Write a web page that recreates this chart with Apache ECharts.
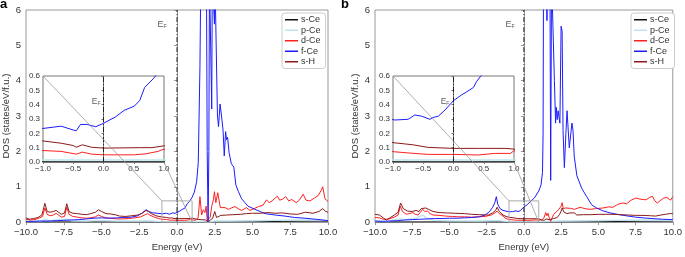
<!DOCTYPE html>
<html>
<head>
<meta charset="utf-8">
<script src="https://cdn.jsdelivr.net/npm/echarts@6/dist/echarts.min.js"></script>
<style>html,body{margin:0;padding:0;background:#fff}#chart{width:685px;height:257px}</style>
</head>
<body>
<div id="chart"></div>
<script>
// legend names and colours
const names = ['s-Ce', 'p-Ce', 'd-Ce', 'f-Ce', 's-H'];
const colors = ['#111111', '#bfe3ef', '#ff2020', '#1c1cff', '#8b1a1a'];

// axis ranges [min, max, step]
const mainX = [-10, 10, 2.5];
const mainY = [0, 6, 1];
const insetX = [-1, 1, 0.5];
const insetY = [0, 0.6, 0.1];

// Fermi level label positions [x, y] in main / inset coordinates
const efMainA = [-0.99, 5.6];
const efMainB = [-0.93, 5.6];
const efInsetA = [-0.12, 0.42];
const efInsetB = [-0.14, 0.42];

// ---- panel a, [energy, DOS] ----
const sCeA = [[-10,0.003],[-5,0.003],[0,0.001],[2,0.002],[5,0.01],[7,0.02],[8,0.025],[10,0.03]];
const pCeA = [[-10,0.02],[-9,0.03],[-8.75,0.08],[-8.4,0.04],[-8,0.06],[-7.3,0.08],[-7,0.04],[-6,0.03],[-5.2,0.05],[-4,0.03],[-2.5,0.03],[-2,0.04],[-1,0.014],[1,0.014],[1.5,0.02],[2.07,0],[2.5,0.03],[3.5,0.03],[5,0.04],[6.5,0.05],[8,0.06],[9.5,0.06],[10,0.05]];
const dCeA = [[-10,0.08],[-9.7,0.06],[-9.4,0.07],[-9.1,0.12],[-8.9,0.16],[-8.75,0.4],[-8.6,0.22],[-8.4,0.18],[-8.2,0.2],[-8.0,0.25],[-7.85,0.2],[-7.65,0.14],[-7.45,0.16],[-7.3,0.42],[-7.15,0.22],[-6.9,0.16],[-6.6,0.14],[-6.3,0.12],[-6.0,0.11],[-5.7,0.12],[-5.4,0.15],[-5.2,0.2],[-5.0,0.16],[-4.7,0.12],[-4.4,0.11],[-4.0,0.09],[-3.6,0.09],[-3.2,0.1],[-2.8,0.12],[-2.4,0.15],[-2.1,0.21],[-1.95,0.24],[-1.8,0.2],[-1.5,0.14],[-1.2,0.1],[-1.0,0.08],[-0.7,0.074],[-0.45,0.055],[-0.35,0.069],[-0.2,0.055],[0,0.05],[0.5,0.05],[0.7,0.057],[0.9,0.074],[1.0,0.09],[1.2,0.05],[1.4,0.12],[1.52,0.72],[1.63,0.2],[1.74,0.35],[1.85,0.27],[1.93,0.45],[2.0,0.04],[2.07,0.0],[2.2,0.14],[2.3,0.45],[2.41,0.63],[2.48,0.86],[2.57,0.55],[2.7,0.83],[2.78,0.87],[2.87,0.41],[2.96,0.38],[3.18,0.41],[3.4,0.36],[3.6,0.4],[3.84,0.44],[4.05,0.38],[4.28,0.33],[4.6,0.41],[4.83,0.33],[5.1,0.38],[5.4,0.44],[5.7,0.48],[5.93,0.63],[6.1,0.55],[6.3,0.6],[6.5,0.68],[6.65,0.73],[6.8,0.62],[7.0,0.65],[7.2,0.72],[7.4,0.6],[7.6,0.64],[7.9,0.55],[8.1,0.62],[8.35,0.79],[8.55,0.62],[8.8,0.6],[9.1,0.68],[9.35,0.75],[9.55,0.9],[9.65,1.0],[9.8,0.66],[10,0.58]];
const fCeA = [[-10,0.02],[-9.5,0.02],[-9,0.03],[-8.5,0.03],[-8,0.04],[-7.5,0.05],[-7,0.06],[-6.5,0.07],[-6,0.09],[-5.5,0.11],[-5.0,0.12],[-4.5,0.11],[-4.0,0.12],[-3.5,0.13],[-3.0,0.14],[-2.6,0.18],[-2.3,0.26],[-2.05,0.35],[-1.85,0.3],[-1.6,0.26],[-1.3,0.25],[-1.0,0.234],[-0.7,0.25],[-0.5,0.223],[-0.45,0.218],[-0.38,0.262],[-0.27,0.262],[-0.13,0.246],[0,0.27],[0.2,0.315],[0.34,0.36],[0.51,0.39],[0.6,0.43],[0.68,0.52],[0.82,0.58],[0.86,0.6],[1.0,0.7],[1.15,0.85],[1.3,1.14],[1.41,1.69],[1.52,4.4],[1.58,7],[1.95,7],[2.0,2.0],[2.06,0.02],[2.11,2.0],[2.15,7],[2.26,7],[2.3,3.2],[2.34,7],[2.45,7],[2.48,5.6],[2.51,7],[2.62,7],[2.68,3.0],[2.75,2.7],[2.85,3.34],[2.95,3.0],[3.05,2.6],[3.13,1.87],[3.22,2.56],[3.28,2.33],[3.35,2.4],[3.45,1.96],[3.6,1.65],[3.76,1.56],[3.9,1.05],[4.07,0.86],[4.28,0.66],[4.5,0.55],[4.7,0.45],[5.17,0.36],[5.5,0.3],[5.83,0.24],[6.5,0.2],[7.15,0.17],[7.8,0.13],[8.47,0.11],[9.2,0.08],[9.8,0.05],[10,0.04]];
const sHA = [[-10,0.12],[-9.8,0.08],[-9.5,0.1],[-9.2,0.13],[-8.95,0.2],[-8.75,0.53],[-8.6,0.3],[-8.4,0.28],[-8.2,0.3],[-8.0,0.33],[-7.85,0.28],[-7.65,0.22],[-7.45,0.26],[-7.3,0.52],[-7.15,0.3],[-6.9,0.25],[-6.6,0.24],[-6.3,0.22],[-6.0,0.21],[-5.7,0.24],[-5.4,0.28],[-5.2,0.35],[-5.0,0.3],[-4.7,0.24],[-4.4,0.23],[-4.1,0.21],[-3.8,0.17],[-3.4,0.16],[-3.0,0.18],[-2.6,0.2],[-2.3,0.25],[-2.05,0.33],[-1.9,0.3],[-1.7,0.24],[-1.4,0.18],[-1.2,0.16],[-1.0,0.147],[-0.7,0.131],[-0.5,0.115],[-0.45,0.103],[-0.35,0.12],[-0.2,0.103],[0,0.097],[0.6,0.1],[0.8,0.1],[1.0,0.113],[1.3,0.08],[1.6,0.07],[1.9,0.06],[2.07,0.0],[2.2,0.06],[2.35,0.1],[2.5,0.3],[2.62,0.13],[2.9,0.19],[3.3,0.2],[3.7,0.21],[4.2,0.22],[4.6,0.24],[5.0,0.25],[5.5,0.25],[6.0,0.27],[6.5,0.25],[7.0,0.26],[7.5,0.23],[8.0,0.22],[8.5,0.28],[9.0,0.25],[9.4,0.3],[9.65,0.38],[9.85,0.3],[10,0.28]];

// ---- panel b, [energy, DOS] ----
const sCeB = [[-10,0.003],[-5,0.003],[0,0.001],[2,0.002],[5,0.01],[7,0.02],[8,0.025],[10,0.03]];
const pCeB = [[-10,0.03],[-9.2,0.02],[-8.3,0.1],[-8,0.06],[-7.2,0.12],[-6.8,0.2],[-6.5,0.1],[-6,0.05],[-5,0.04],[-3,0.03],[-1.8,0.05],[-1,0.014],[1,0.014],[1.5,0.02],[2.5,0.03],[4,0.04],[6,0.05],[8,0.06],[10,0.05]];
const dCeB = [[-10,0.13],[-9.7,0.12],[-9.45,0.08],[-9.2,0.08],[-9,0.1],[-8.7,0.14],[-8.45,0.2],[-8.3,0.45],[-8.15,0.3],[-7.9,0.22],[-7.7,0.24],[-7.46,0.27],[-7.3,0.22],[-7.1,0.2],[-6.95,0.28],[-6.8,0.36],[-6.65,0.3],[-6.47,0.31],[-6.3,0.24],[-6.1,0.2],[-5.7,0.19],[-5.26,0.17],[-4.8,0.16],[-4.4,0.15],[-4.0,0.15],[-3.5,0.14],[-3.0,0.15],[-2.6,0.16],[-2.2,0.2],[-1.95,0.26],[-1.8,0.31],[-1.65,0.24],[-1.4,0.17],[-1.2,0.1],[-1.0,0.072],[-0.65,0.06],[-0.42,0.053],[0,0.053],[0.41,0.049],[0.68,0.06],[0.94,0.06],[1.0,0.079],[1.2,0.06],[1.35,0.12],[1.47,0.27],[1.55,0.18],[1.62,0.25],[1.72,0.1],[1.8,0.02],[1.9,0.12],[2.0,0.22],[2.2,0.3],[2.35,0.36],[2.5,0.45],[2.57,0.55],[2.65,0.38],[2.8,0.4],[3.12,0.39],[3.4,0.36],[3.78,0.42],[4.1,0.38],[4.44,0.36],[4.8,0.38],[5.32,0.4],[5.7,0.43],[5.98,0.42],[6.3,0.5],[6.65,0.54],[6.9,0.52],[7.2,0.62],[7.53,0.68],[7.8,0.65],[8.2,0.63],[8.45,0.7],[8.63,0.73],[8.8,0.6],[8.96,0.54],[9.2,0.62],[9.4,0.68],[9.6,0.7],[9.73,0.73],[9.85,0.62],[10,0.72]];
const fCeB = [[-10,0.03],[-9.5,0.02],[-9,0.03],[-8.5,0.04],[-8,0.06],[-7.5,0.07],[-7,0.08],[-6.5,0.09],[-6,0.1],[-5.5,0.1],[-5,0.11],[-4.5,0.11],[-4,0.12],[-3.5,0.13],[-3,0.15],[-2.6,0.2],[-2.3,0.3],[-2.1,0.42],[-1.95,0.55],[-1.85,0.72],[-1.75,0.5],[-1.6,0.38],[-1.4,0.33],[-1.2,0.31],[-0.97,0.293],[-0.75,0.298],[-0.64,0.328],[-0.53,0.32],[-0.39,0.298],[-0.34,0.31],[-0.25,0.32],[-0.14,0.363],[0,0.428],[0.13,0.467],[0.22,0.49],[0.33,0.52],[0.38,0.56],[0.45,0.6],[0.7,0.68],[1.0,0.88],[1.15,1.05],[1.25,1.4],[1.29,2.5],[1.32,7],[1.5,7],[1.55,5.7],[1.6,7],[1.75,7],[1.8,1.18],[1.86,7],[1.98,7],[2.05,4.0],[2.13,2.8],[2.17,3.25],[2.24,2.9],[2.3,3.15],[2.35,3.1],[2.42,2.8],[2.5,5.54],[2.57,5.4],[2.63,2.6],[2.72,1.54],[2.82,2.5],[2.9,3.15],[2.97,3.2],[3.05,2.1],[3.12,2.05],[3.23,2.8],[3.3,2.6],[3.38,1.87],[3.56,1.31],[3.89,0.95],[4.22,0.72],[4.55,0.49],[4.88,0.4],[5.3,0.32],[5.8,0.26],[6.4,0.21],[7.0,0.17],[7.5,0.14],[8.0,0.12],[8.6,0.1],[9.3,0.08],[10,0.07]];
const sHB = [[-10,0.22],[-9.7,0.2],[-9.45,0.12],[-9.23,0.06],[-9.0,0.12],[-8.7,0.2],[-8.45,0.28],[-8.28,0.54],[-8.1,0.38],[-7.8,0.31],[-7.5,0.3],[-7.24,0.33],[-7.05,0.3],[-6.9,0.38],[-6.8,0.42],[-6.6,0.4],[-6.4,0.36],[-6.1,0.3],[-5.7,0.27],[-5.2,0.26],[-4.6,0.25],[-4.0,0.24],[-3.5,0.22],[-3.0,0.21],[-2.4,0.2],[-2.1,0.26],[-1.9,0.33],[-1.8,0.42],[-1.65,0.3],[-1.4,0.2],[-1.2,0.16],[-1.0,0.135],[-0.67,0.12],[-0.42,0.102],[0,0.095],[0.41,0.095],[0.85,0.095],[1.0,0.09],[1.2,0.06],[1.36,0.05],[1.5,0.09],[1.58,0.13],[1.7,0.07],[1.8,0.02],[2.0,0.1],[2.24,0.13],[2.4,0.22],[2.5,0.31],[2.57,0.4],[2.7,0.28],[2.9,0.24],[3.1,0.26],[3.23,0.31],[3.4,0.26],[3.56,0.2],[4.0,0.21],[4.5,0.21],[5.0,0.22],[5.5,0.22],[6.0,0.22],[6.5,0.21],[7.0,0.2],[7.5,0.19],[8.0,0.19],[8.5,0.18],[8.85,0.17],[9.2,0.2],[9.5,0.22],[9.8,0.24],[10,0.24]];

const panelA = [sCeA, pCeA, dCeA, fCeA, sHA];
const panelB = [sCeB, pCeB, dCeB, fCeB, sHB];

const FONT = 'Liberation Sans, Arial, sans-serif';
const fmt = (v, d) => v.toFixed(d).replace('-', '\u2212');

function dosLines(sets, xi, z) {
  return sets.map((d, i) => ({
    type: 'line', name: names[i], data: d, xAxisIndex: xi, yAxisIndex: xi,
    symbol: 'none', z: z, clip: true, silent: true,
    lineStyle: { color: colors[i], width: i === 1 ? 1.4 : 1 }, itemStyle: { color: colors[i] }
  }));
}

function fermiLine(xi, range, z) {
  return {
    type: 'line', data: [[0, range[0]], [0, range[1]]], xAxisIndex: xi, yAxisIndex: xi,
    symbol: 'none', z: z, silent: true,
    lineStyle: { color: '#222', width: 1, type: [5, 2, 1, 2] }
  };
}

function efLabel(xi, pos, size, z) {
  return {
    type: 'scatter', data: [pos], xAxisIndex: xi, yAxisIndex: xi, symbolSize: 0, z: z, silent: true,
    label: {
      show: true, position: 'inside', formatter: '{e|E}{f|F}',
      rich: {
        e: { fontSize: size, fontFamily: FONT, color: '#333' },
        f: { fontSize: size * 0.6, fontFamily: FONT, color: '#333', padding: [size * 0.5, 0, 0, 0] }
      }
    }
  };
}

// zoom box drawn on the main axes from the inset's ranges
function zoomBox(xi) {
  return {
    type: 'line', xAxisIndex: xi, yAxisIndex: xi, symbol: 'none', z: 4, silent: true,
    data: [[insetX[0], insetY[0]], [insetX[0], insetY[1]], [insetX[1], insetY[1]], [insetX[1], insetY[0]], [insetX[0], insetY[0]]],
    lineStyle: { color: '#aaa', width: 1 }
  };
}

function mainXAxis(grid) {
  return {
    type: 'value', gridIndex: grid, min: mainX[0], max: mainX[1], interval: mainX[2],
    name: 'Energy (eV)', nameLocation: 'middle', nameGap: 17,
    nameTextStyle: { fontSize: 9.5, fontFamily: FONT, color: '#333' },
    axisLine: { onZero: false, lineStyle: { color: '#999' } },
    axisTick: { length: 3, lineStyle: { color: '#999' } },
    axisLabel: { fontSize: 9.5, fontFamily: FONT, color: '#333', margin: 5, formatter: v => fmt(v, 1) },
    splitLine: { show: false }
  };
}
function mainYAxis(grid) {
  return {
    type: 'value', gridIndex: grid, min: mainY[0], max: mainY[1], interval: mainY[2],
    name: 'DOS (states/eV/f.u.)', nameLocation: 'middle', nameGap: 15, nameRotate: 90,
    nameTextStyle: { fontSize: 9.5, fontFamily: FONT, color: '#333' },
    axisLine: { show: true, lineStyle: { color: '#999' } },
    axisTick: { show: true, length: 3, lineStyle: { color: '#999' } },
    axisLabel: { fontSize: 9.5, fontFamily: FONT, color: '#333', margin: 5 },
    splitLine: { show: false }
  };
}
function insetXAxis(grid) {
  return {
    type: 'value', gridIndex: grid, min: insetX[0], max: insetX[1], interval: insetX[2], z: 12,
    axisLine: { onZero: false, lineStyle: { color: '#777' } },
    axisTick: { length: 2, lineStyle: { color: '#777' } },
    axisLabel: { fontSize: 8, fontFamily: FONT, color: '#333', margin: 3, formatter: v => fmt(v, 1) },
    splitLine: { show: false }
  };
}
function insetYAxis(grid) {
  return {
    type: 'value', gridIndex: grid, min: insetY[0], max: insetY[1], interval: insetY[2], z: 12,
    axisLine: { show: true, lineStyle: { color: '#777' } },
    axisTick: { show: true, length: 2, lineStyle: { color: '#777' } },
    axisLabel: { fontSize: 8, fontFamily: FONT, color: '#333', margin: 3, formatter: v => fmt(v, 1) },
    splitLine: { show: false }
  };
}

function legendAt(left) {
  return {
    left: left, top: 13, orient: 'vertical', data: names, selectedMode: false,
    icon: 'rect', itemWidth: 13, itemHeight: 1.5, itemGap: 1,
    padding: [2, 5, 2, 3], borderColor: '#ccc', borderWidth: 1, borderRadius: 3,
    backgroundColor: '#fff',
    textStyle: { fontSize: 9, fontFamily: FONT, color: '#333', lineHeight: 9.5, padding: [0, 0, 0, -2] }
  };
}

const chart = echarts.init(document.getElementById('chart'), null, { renderer: 'canvas' });

const option = {
  animation: false,
  backgroundColor: '#fff',
  title: [
    { text: 'a', left: 0, top: -2, padding: 0, textStyle: { fontSize: 13, fontWeight: 'bold', fontFamily: FONT, color: '#000' } },
    { text: 'b', left: 341, top: -2, padding: 0, textStyle: { fontSize: 13, fontWeight: 'bold', fontFamily: FONT, color: '#000' } }
  ],
  legend: [legendAt(282), legendAt(631)],
  grid: [
    { left: 26, top: 10, width: 302, height: 218, show: true, borderColor: '#999', borderWidth: 1 },
    { left: 375, top: 10, width: 302, height: 218, show: true, borderColor: '#999', borderWidth: 1 },
    { left: 43, top: 76, width: 121, height: 86, show: true, backgroundColor: '#fff', borderColor: '#777', borderWidth: 1, z: 10 },
    { left: 393, top: 76, width: 121, height: 86, show: true, backgroundColor: '#fff', borderColor: '#777', borderWidth: 1, z: 10 }
  ],
  xAxis: [mainXAxis(0), mainXAxis(1), insetXAxis(2), insetXAxis(3)],
  yAxis: [mainYAxis(0), mainYAxis(1), insetYAxis(2), insetYAxis(3)],
  series: [].concat(
    dosLines(panelA, 0, 2), dosLines(panelB, 1, 2),
    [fermiLine(0, [mainY[0], mainY[1]], 3), fermiLine(1, [mainY[0], mainY[1]], 3),
     zoomBox(0), zoomBox(1),
     efLabel(0, efMainA, 9, 5), efLabel(1, efMainB, 9, 5)],
    dosLines(panelA, 2, 11), dosLines(panelB, 3, 11),
    [fermiLine(2, [insetY[0], insetY[1]], 12), fermiLine(3, [insetY[0], insetY[1]], 12),
     efLabel(2, efInsetA, 8.5, 13), efLabel(3, efInsetB, 8.5, 13)]
  )
};
chart.setOption(option);

// connector lines between inset corners and the zoom box corners
const connectors = [];
[[2, 0], [3, 1]].forEach(([inset, main]) => {
  [[insetX[0], insetY[1]], [insetX[1], insetY[0]]].forEach(pt => {
    const a = chart.convertToPixel({ xAxisIndex: inset, yAxisIndex: inset }, pt);
    const b = chart.convertToPixel({ xAxisIndex: main, yAxisIndex: main }, pt);
    connectors.push({
      type: 'line', z: 20, silent: true,
      shape: { x1: a[0], y1: a[1], x2: b[0], y2: b[1] },
      style: { stroke: '#999', lineWidth: 0.8 }
    });
  });
});
chart.setOption({ graphic: connectors });
</script>
</body>
</html>
